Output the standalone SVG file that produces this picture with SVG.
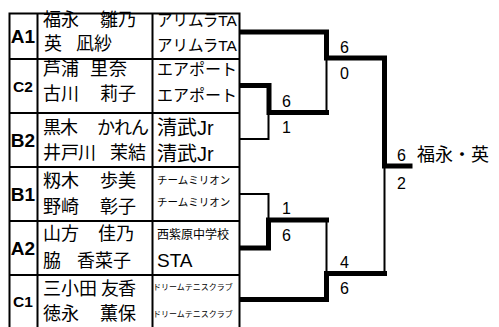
<svg xmlns="http://www.w3.org/2000/svg" width="499" height="327" viewBox="0 0 499 327">
<style>
.grid{stroke:#000;stroke-width:2;fill:none}
.thick{stroke:#000;stroke-width:5;fill:none;stroke-linecap:square}
.thin{stroke:#000;stroke-width:2;fill:none}
.lab{font-family:"Liberation Sans","Noto Sans CJK JP",sans-serif;font-weight:bold;text-anchor:middle;fill:#000}
.nm{font-family:"Noto Sans CJK JP","Liberation Sans",sans-serif;font-size:18px;fill:#000}
.tm{font-family:"Liberation Sans","Noto Sans CJK JP",sans-serif;fill:#000}
.sc{font-family:"Liberation Sans","Noto Sans CJK JP",sans-serif;font-size:16px;fill:#000}
</style>
<rect width="499" height="327" fill="#fff"/>
<g id="table">
<path class="grid" d="M9.5 13.5V327M37.5 13.5V327M152.5 13.5V327M239.5 13.5V327M8.5 13.5H240.5M8.5 59H240.5M8.5 113H240.5M8.5 167H240.5M8.5 221H240.5M8.5 275H240.5"/>
</g>
<g id="A1">
<text class="lab" x="23" y="43" font-size="19">A1</text>
<text class="nm" x="43 61 79 100 118" y="26">福永　雛乃</text>
<text class="nm" x="44 62 76 94" y="50">英　凪紗</text>
<text class="tm" x="157" y="26" font-size="15.5">アリムラTA</text>
<text class="tm" x="157" y="51" font-size="15.5">アリムラTA</text>
</g>
<g id="C2">
<text class="lab" x="23" y="92" font-size="15.5">C2</text>
<text class="nm" x="43 61 79 90 109" y="75">芦浦　里奈</text>
<text class="nm" x="43 61 79 100 118" y="100">古川　莉子</text>
<text class="tm" x="157" y="75" font-size="16">エアポート</text>
<text class="tm" x="157" y="101" font-size="16">エアポート</text>
</g>
<g id="B2">
<text class="lab" x="23" y="147" font-size="19">B2</text>
<text class="nm" x="43 60 77 97 114 131" y="134" font-size="17">黒木　かれん</text>
<text class="nm" x="43 61 78 95 110 128" y="159" font-size="17">井戸川　茉結</text>
<text class="tm" x="157" y="135" font-size="20">清武Jr</text>
<text class="tm" x="157" y="161" font-size="20">清武Jr</text>
</g>
<g id="B1">
<text class="lab" x="23" y="201" font-size="19">B1</text>
<text class="nm" x="43 61 79 100 118" y="187">籾木　歩美</text>
<text class="nm" x="43 61 79 100 118" y="213">野崎　彰子</text>
<text class="tm" x="157" y="184" font-size="10.5">チームミリオン</text>
<text class="tm" x="157" y="206" font-size="10.5">チームミリオン</text>
</g>
<g id="A2">
<text class="lab" x="23" y="255" font-size="19">A2</text>
<text class="nm" x="43 61 79 98 116" y="240">山方　佳乃</text>
<text class="nm" x="43 61 77 95 113" y="267">脇　香菜子</text>
<text class="tm" x="157" y="239" font-size="12">西紫原中学校</text>
<text class="tm" x="157" y="267" font-size="19">STA</text>
</g>
<g id="C1">
<text class="lab" x="23" y="307" font-size="15.5">C1</text>
<text class="nm" x="43 61 79 97 101 118" y="295">三小田　友香</text>
<text class="nm" x="43 61 79 100 118" y="320">徳永　薫保</text>
<text class="tm" x="153" y="290" font-size="8">ドリームテニスクラブ</text>
<text class="tm" x="153" y="317" font-size="8">ドリームテニスクラブ</text>
</g>
<g id="connectors">
<path class="thin" d="M240 139H268.5V113"/>
<path class="thin" d="M326.5 58V113"/>
<path class="thin" d="M240 194H268.5V220"/>
<path class="thin" d="M326.5 220V274"/>
<path class="thin" d="M384.5 166V274"/>
<path class="thick" d="M242 32H326.5V58H384.5V166H410"/>
<path class="thick" d="M242 85.5H269V112.5H326.5"/>
<path class="thick" d="M242 248H268.5V220H326.5"/>
<path class="thick" d="M242 299.5H326.5V273.5H384.5"/>
</g>
<g id="scores">
<text class="sc" x="340" y="53">6</text>
<text class="sc" x="340" y="79">0</text>
<text class="sc" x="282" y="107">6</text>
<text class="sc" x="282" y="133">1</text>
<text class="sc" x="397" y="161">6</text>
<text class="nm" x="417" y="161" font-size="17.5">福永・英</text>
<text class="sc" x="397" y="189">2</text>
<text class="sc" x="282" y="214">1</text>
<text class="sc" x="282" y="241">6</text>
<text class="sc" x="340" y="268">4</text>
<text class="sc" x="340" y="294">6</text>
</g>
</svg>
